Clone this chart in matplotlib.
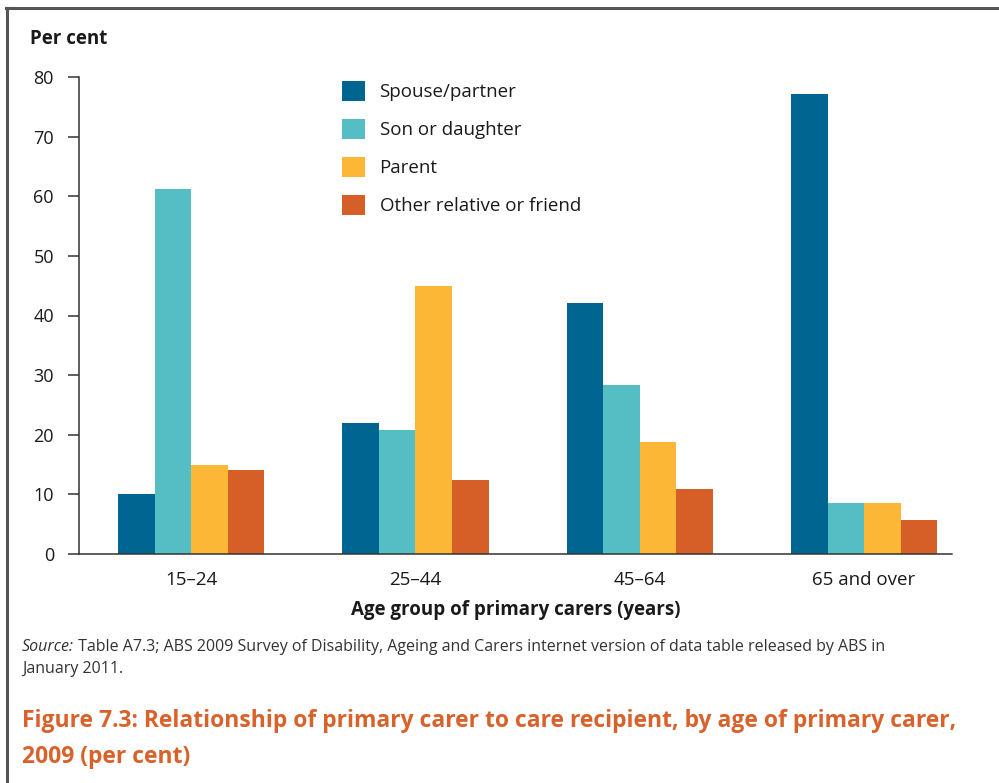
import numpy as np
import matplotlib.pyplot as plt
from matplotlib.lines import Line2D

plt.rcParams['font.family'] = ['Open Sans', 'DejaVu Sans']

age_groups = ['15–24', '25–44', '45–64', '65 and over']
relationships = ['Spouse/partner', 'Son or daughter', 'Parent', 'Other relative or friend']
spouse = [10.1, 22.0, 42.1, 77.2]
son_daughter = [61.2, 20.8, 28.4, 8.6]
parent = [14.9, 45.0, 18.8, 8.6]
other = [14.1, 12.4, 10.9, 5.7]
colours = ['#006591', '#55bec5', '#fbb735', '#d55f27']

series = [spouse, son_daughter, parent, other]
TXT = '#1a1a1a'

fig = plt.figure(figsize=(9.99, 7.83), dpi=100)
ax = fig.add_axes([79 / 999, 1 - 554 / 783, (952 - 79) / 999, (554 - 77) / 783])

x = np.arange(len(age_groups))
w = 0.163
for i, (vals, col, lab) in enumerate(zip(series, colours, relationships)):
    ax.bar(x + (i - 1.5) * w, vals, width=w, color=col, label=lab)

ax.set_xlim(-0.5, 3.392)
ax.set_ylim(0, 80)
ax.set_yticks(range(0, 81, 10))
ax.set_xticks(x)
ax.set_xticklabels(age_groups, fontsize=13.5, color=TXT)
ax.tick_params(axis='x', length=0, pad=12)
ax.tick_params(axis='y', length=8, width=1.1, color='#333333', labelsize=13,
               labelcolor=TXT, pad=10)
for s in ['top', 'right']:
    ax.spines[s].set_visible(False)
for s in ['left', 'bottom']:
    ax.spines[s].set_color('#333333')
    ax.spines[s].set_linewidth(1.1)

ax.set_xlabel('Age group of primary carers (years)', fontsize=13.5, fontweight='bold',
              color=TXT, labelpad=8)
fig.text(30 / 999, 1 - 39 / 783, 'Per cent', fontsize=13.5, fontweight='bold',
         color=TXT, va='center', ha='left')

leg = ax.legend(loc='upper left', bbox_to_anchor=(342 / 999, 1 - 81 / 783),
                bbox_transform=fig.transFigure, frameon=False, fontsize=13.5,
                handlelength=1.25, handleheight=1.25, labelspacing=0.95,
                handletextpad=0.75, borderaxespad=0, borderpad=0)
for t in leg.get_texts():
    t.set_color(TXT)

# source note: italic lead word followed by the plain text
src_y = 1 - 647 / 783
lead = fig.text(22 / 999, src_y, 'Source:', fontsize=11.5, style='italic',
                color='#333333', va='center', ha='left')
renderer = fig.canvas.get_renderer()
bb = lead.get_window_extent(renderer=renderer)
fig.text(bb.x1 / fig.bbox.width, src_y,
         ' Table A7.3; ABS 2009 Survey of Disability, Ageing and Carers internet version of data table released by ABS in',
         fontsize=11.5, color='#333333', va='center', ha='left')
fig.text(22 / 999, 1 - 669 / 783, 'January 2011.', fontsize=11.5, color='#333333',
         va='center', ha='left')

# figure caption
fig.text(22 / 999, 1 - 721 / 783,
         'Figure 7.3: Relationship of primary carer to care recipient, by age of primary carer,',
         fontsize=16.5, fontweight='bold', color='#d9622b', va='center', ha='left')
fig.text(22 / 999, 1 - 757 / 783, '2009 (per cent)', fontsize=16.5, fontweight='bold',
         color='#d9622b', va='center', ha='left')

# frame along the top and left of the figure
fig.add_artist(Line2D([7 / 999, 7 / 999], [0, 1 - 8 / 783], color='#555555', lw=2.2,
                      transform=fig.transFigure))
fig.add_artist(Line2D([6 / 999, 1], [1 - 8 / 783, 1 - 8 / 783], color='#555555', lw=2.2,
                      transform=fig.transFigure))

fig.savefig('out.png', dpi=100)
